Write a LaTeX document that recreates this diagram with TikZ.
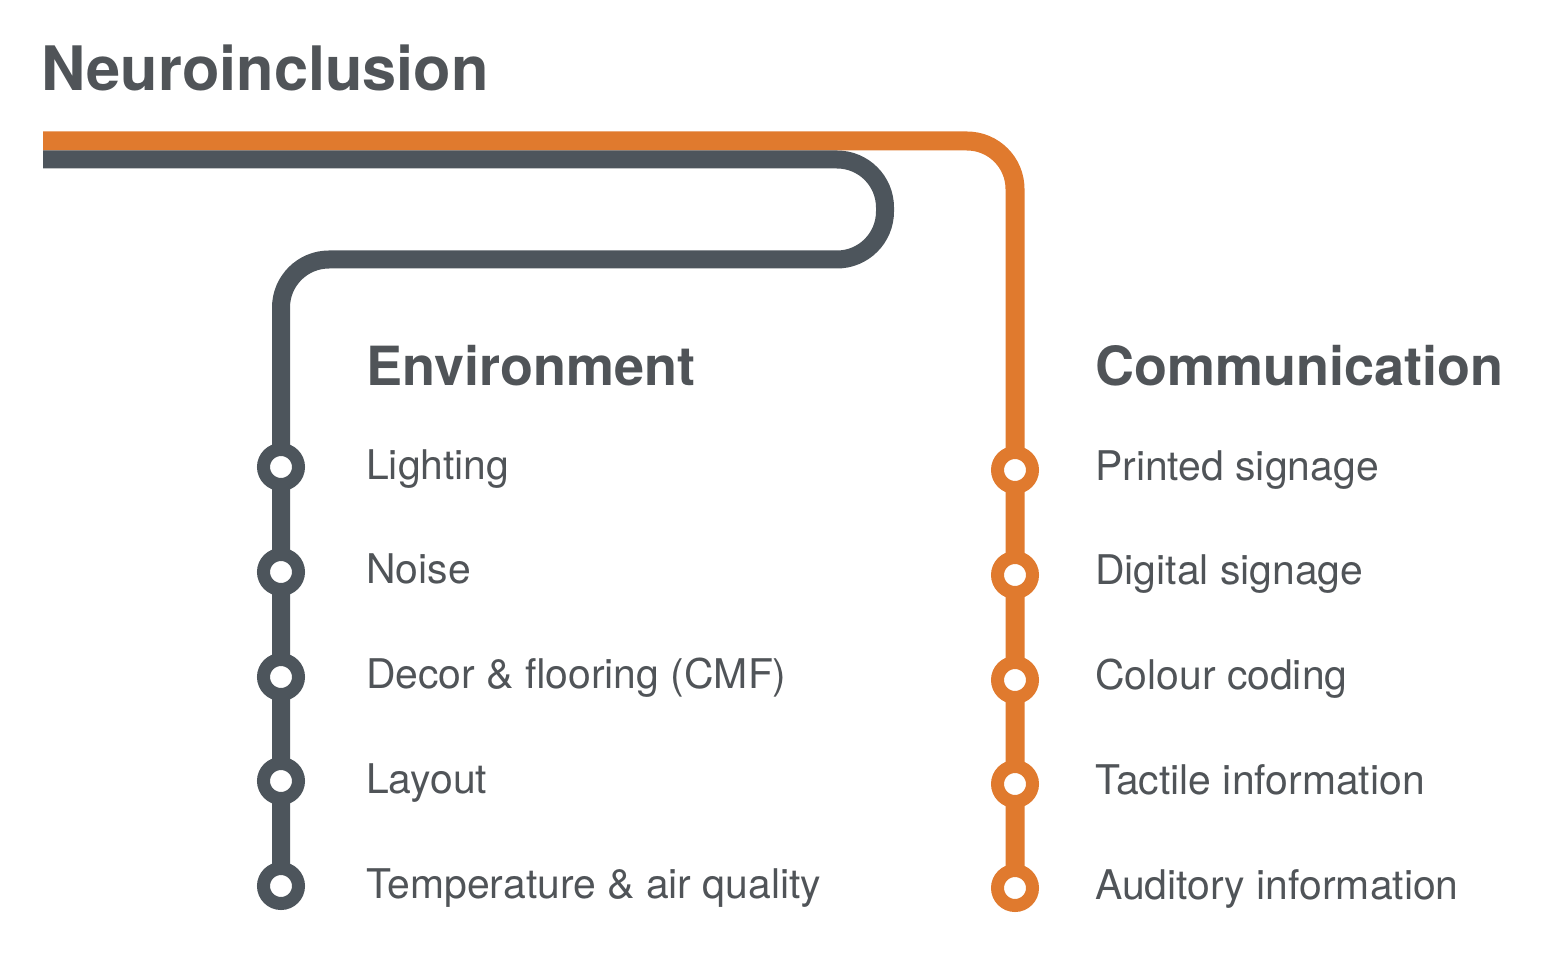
\documentclass[tikz,border=0pt]{standalone}
\usepackage{fontspec}
\setmainfont{TeX Gyre Heros}
\usetikzlibrary{backgrounds}
\definecolor{linegray}{RGB}{77,85,92}
\definecolor{lineorange}{RGB}{224,122,46}
\definecolor{textgray}{RGB}{80,84,88}

\begin{document}
\begin{tikzpicture}[
    x=1pt, y=-1pt,
    gline/.style={
        draw=linegray,
        line width=18pt,
        rounded corners=48pt
    },
    oline/.style={
        draw=lineorange,
        line width=19pt,
        rounded corners=48pt
    },
    gstation/.style={
        circle,
        draw=linegray,
        line width=13pt,
        fill=white,
        minimum size=35pt,
        inner sep=0pt
    },
    ostation/.style={
        gstation,
        draw=lineorange
    },
    title/.style={
        anchor=base west,
        inner sep=0pt,
        text=textgray,
        font=\fontsize{61.3}{70}\selectfont\bfseries
    },
    heading/.style={
        anchor=base west,
        inner sep=0pt,
        text=textgray,
        font=\fontsize{54}{60}\selectfont\bfseries
    },
    item/.style={
        anchor=base west,
        inner sep=0pt,
        text=textgray,
        font=\fontsize{40.9}{46}\selectfont
    }
]
\useasboundingbox (0,0) rectangle (1547,957);

% Title
\node[title] (title) at (41,91) {Neuroinclusion};

% Headings
\node[heading] (envhead) at (366,385) {Environment};
\node[heading] (comhead) at (1095,385) {Communication};

% Stations
\foreach \i/\y in {1/467,2/572,3/677,4/781,5/886}
    \node[gstation] (g\i) at (281,\y) {};
\foreach \i/\y in {1/470,2/575,3/680,4/784,5/888}
    \node[ostation] (o\i) at (1015,\y) {};

% Bends
\coordinate (gstart) at (43,159.5);
\coordinate (gloop1) at (885,159.5);
\coordinate (gloop2) at (885,259.5);
\coordinate (gcorner) at (281,259.5);
\coordinate (ostart) at (43,141);
\coordinate (ocorner) at (1015,141);

% Lines
\begin{scope}[on background layer]
\draw[oline] (ostart) -- (ocorner) -- (o5.center);
\draw[gline] (gstart) -- (gloop1) -- (gloop2) -- (gcorner) -- (g5.center);
\end{scope}

% Items
\foreach \t [count=\i] in {Lighting, Noise, {Decor \& flooring (CMF)}, Layout, {Temperature \& air quality}}
    \node[item] (eitem\i) at (366,374.25+104.75*\i) {\t};
\foreach \t [count=\i] in {Printed signage, Digital signage, Colour coding, Tactile information, Auditory information}
    \node[item] (citem\i) at (1095,375.25+104.75*\i) {\t};

\end{tikzpicture}
\end{document}
